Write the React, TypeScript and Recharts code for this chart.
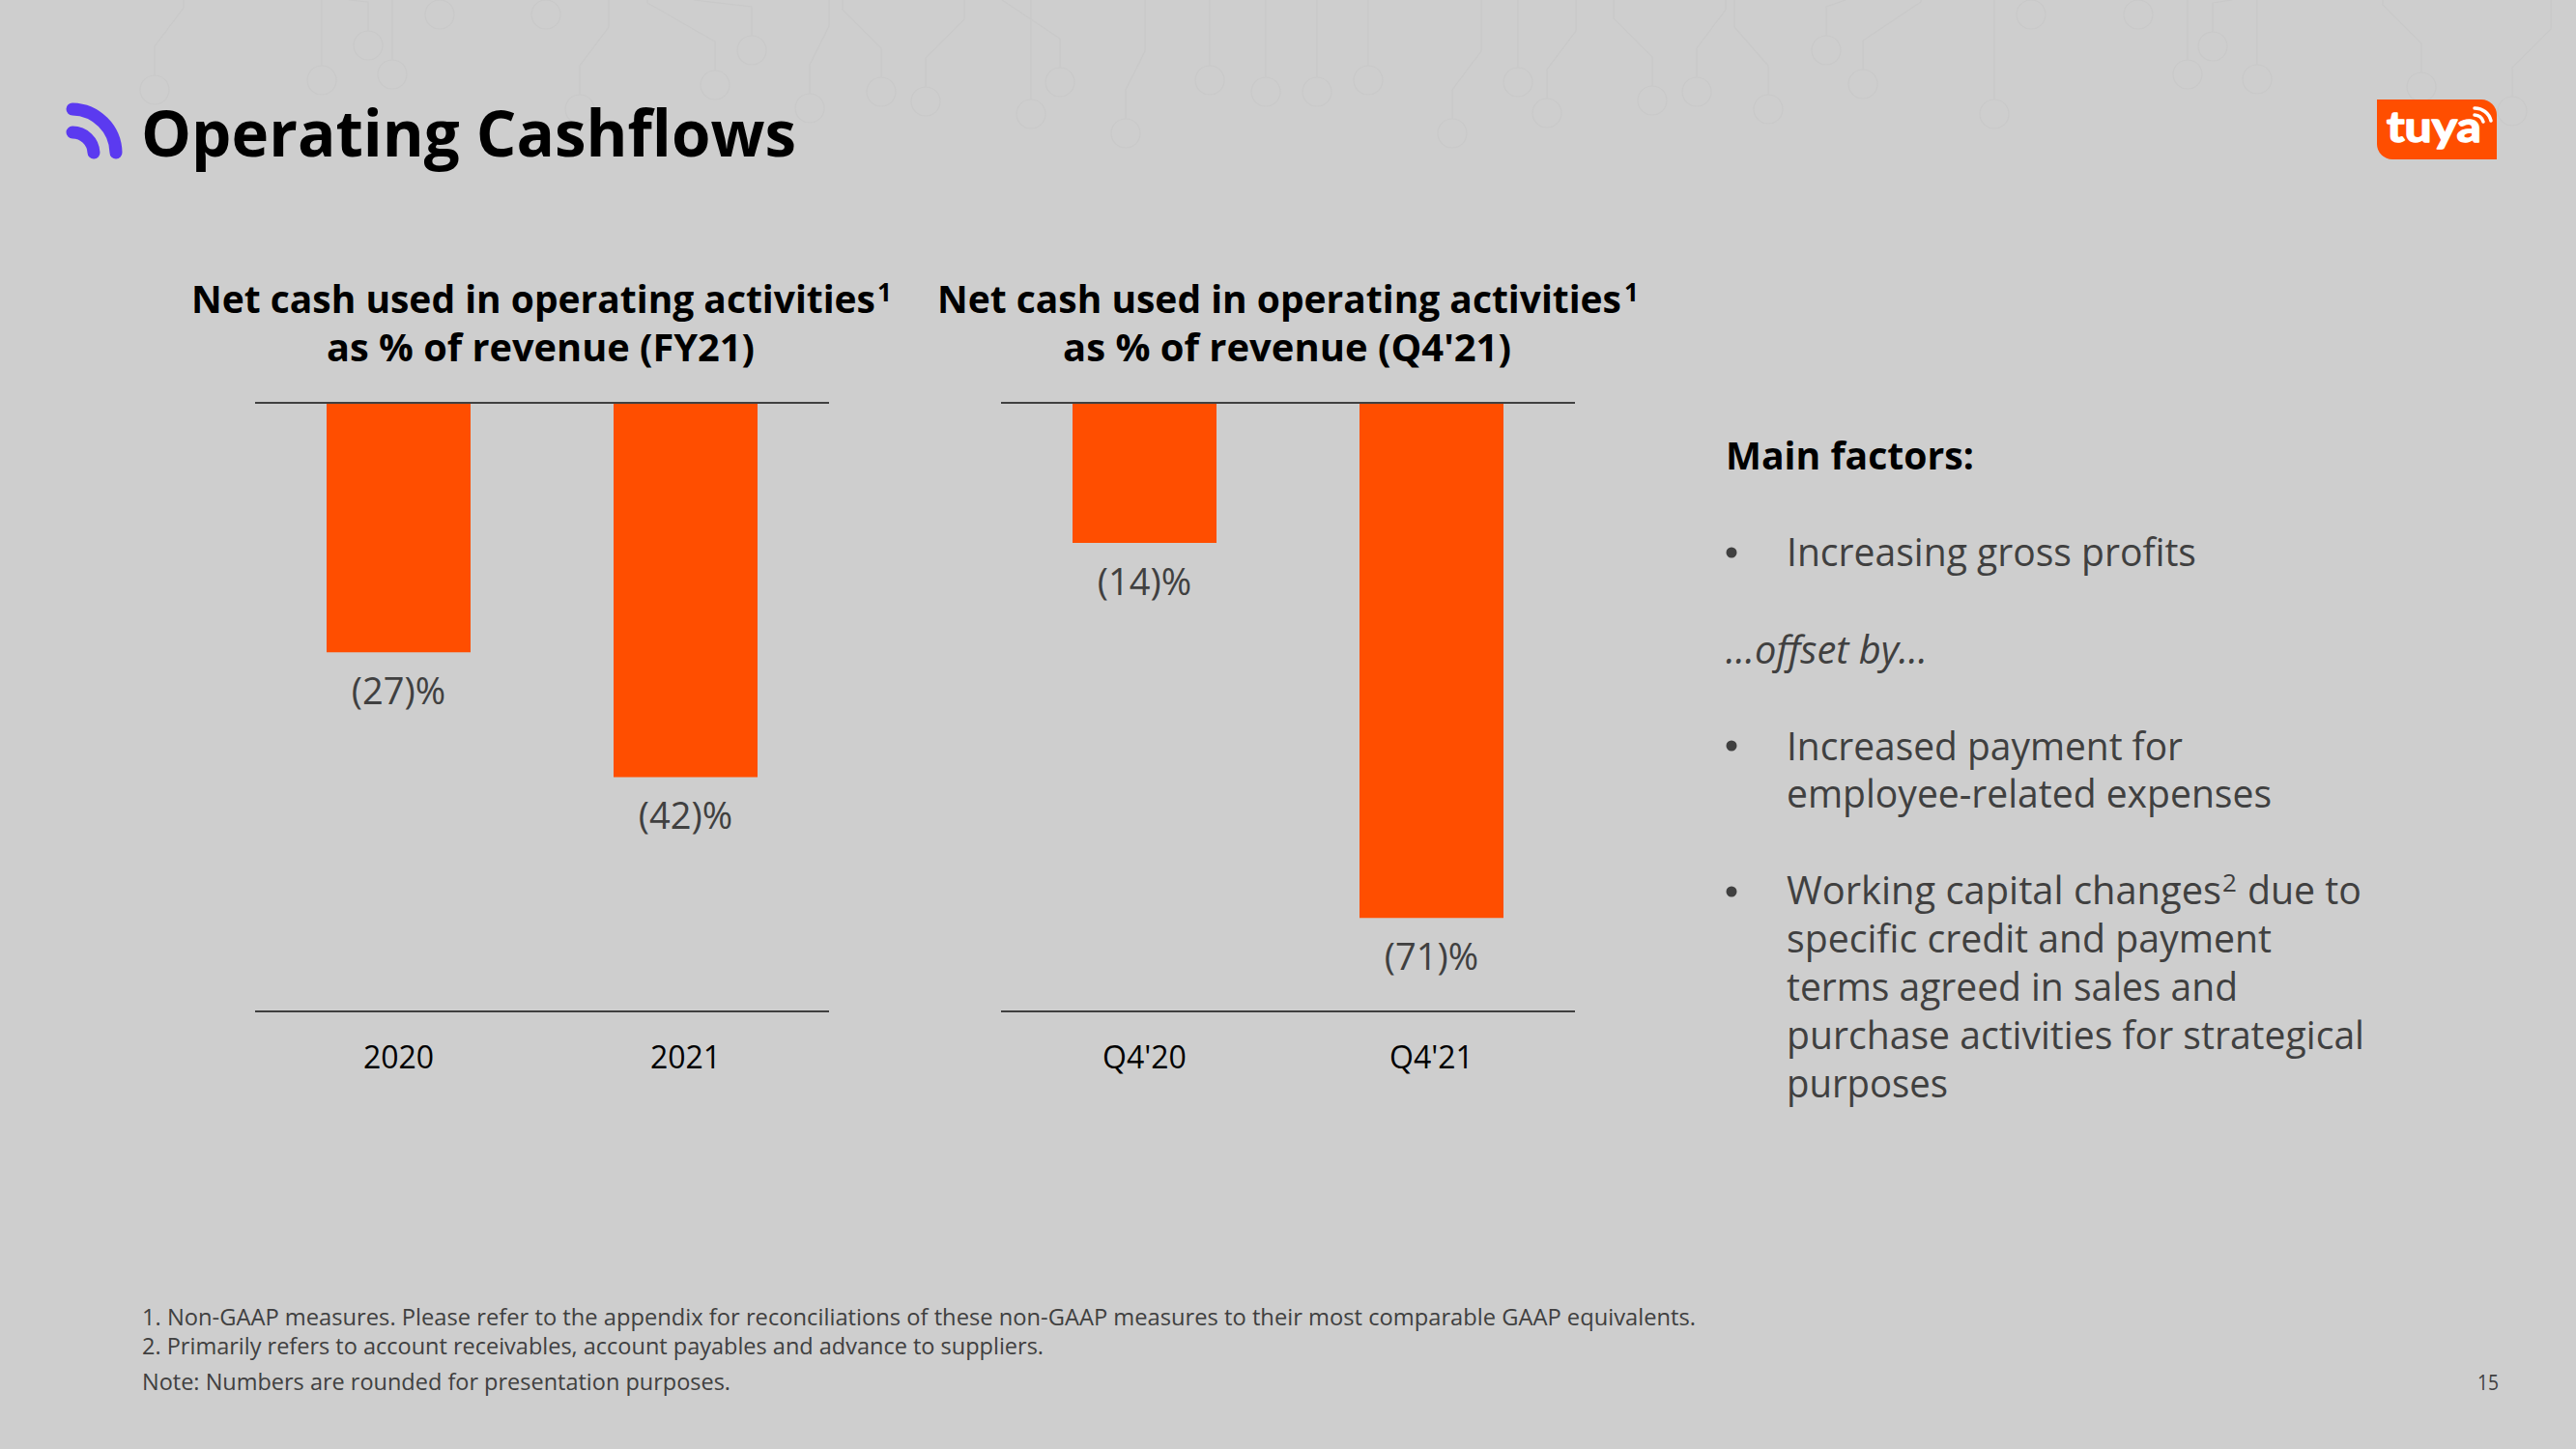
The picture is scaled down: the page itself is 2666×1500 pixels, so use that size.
import React from 'react';
import { BarChart, Bar, XAxis, YAxis, ReferenceLine, LabelList } from 'recharts';

const fyCategories = ['2020', '2021'];
const fyLabels = ['(27)%', '(42)%'];
// bar lengths as drawn in the slide, the printed labels are not quite to scale
const fyBars = [-27, -40.5];

const quarterCategories = ["Q4'20", "Q4'21"];
const quarterLabels = ['(14)%', '(71)%'];
const quarterBars = [-19.3, -71];

const ORANGE = '#FF4E00';
const DARK = '#404040';
const FONT = '"Open Sans", sans-serif';

const fyData = fyCategories.map((name, i) => ({ name, value: fyBars[i], label: fyLabels[i] }));
const quarterData = quarterCategories.map((name, i) => ({
  name,
  value: quarterBars[i],
  label: quarterLabels[i],
}));

// faint circuit decoration along the top edge: node x, node y, sideways drift of the trace
const circuitNodes = [
  [160, 93, 30], [333, 83, 0], [406, 77, 0], [381, 47, -20], [455, 15, 0], [565, 15, 0],
  [778, 52, -60], [740, 88, -70], [838, 112, 20], [912, 95, -40], [958, 105, 40], [1097, 85, -60],
  [1067, 118, 0], [1252, 83, 0], [1310, 95, 0], [1165, 138, 20], [600, 113, 30], [1363, 95, 0],
  [1416, 83, 0], [1571, 85, 0], [1601, 117, 30], [1503, 138, 30], [1710, 104, -40], [1756, 95, 30],
  [1830, 113, -35], [1890, 52, 20], [1928, 87, 60], [2064, 118, 0], [2102, 15, 0], [2213, 15, 0],
  [2290, 48, 20], [2264, 77, 0], [2336, 82, 0], [2506, 90, -40], [2600, 115, 40],
];

function CashChart({ data, domain, left }: { data: any[]; domain: number[]; left: number }) {
  return (
    <div style={{ position: 'absolute', left, top: 400 }}>
      <BarChart
        width={594}
        height={760}
        data={data}
        margin={{ top: 17, right: 0, bottom: 0, left: 0 }}
      >
        <XAxis
          dataKey="name"
          height={113}
          axisLine={{ stroke: DARK, strokeWidth: 2 }}
          tickLine={false}
          tickMargin={30}
          tick={{ fill: '#000000', fontSize: 32, fontFamily: FONT }}
          interval={0}
        />
        <YAxis hide domain={domain} />
        <Bar dataKey="value" fill={ORANGE} barSize={149} isAnimationActive={false}>
          {/* bars hang downwards, so "top" is the free end of the bar here */}
          <LabelList
            dataKey="label"
            position="top"
            offset={27}
            fill={DARK}
            fontSize={38}
            fontFamily={FONT}
          />
        </Bar>
        <ReferenceLine y={0} stroke={DARK} strokeWidth={2} />
      </BarChart>
    </div>
  );
}

function T({ x, y, w, size, bold, italic, fill, anchor, light, children }: any) {
  return (
    <text
      x={x}
      y={y}
      fontSize={size}
      fontFamily={FONT}
      fontWeight={bold ? 700 : light ? 300 : 400}
      fontStyle={italic ? 'italic' : 'normal'}
      fill={fill || DARK}
      textAnchor={anchor || 'start'}
      textLength={w}
      lengthAdjust="spacingAndGlyphs"
    >
      {children}
    </text>
  );
}

export default function App() {
  return (
    <div
      style={{
        position: 'absolute',
        left: 0,
        top: 0,
        width: 2666,
        height: 1500,
        overflow: 'hidden',
        background: '#CECECE',
      }}
    >
      <svg width={2666} height={1500} style={{ position: 'absolute', left: 0, top: 0 }}>
        {circuitNodes.map(([x, y, d], i) => (
          <g key={i} fill="none" stroke="#C9C9C9" strokeWidth={1.2}>
            <circle cx={x} cy={y} r={15} />
            <path d={`M ${x} ${y - 15} L ${x} ${Math.max(y - 45, 0)} L ${x + d} ${Math.max(y - 85, 0)} L ${x + d} 0`} />
          </g>
        ))}

        {/* header */}
        <g fill="none" stroke="#5B3AF0" strokeWidth={13} strokeLinecap="round">
          <path d="M 75 113 A 46 46 0 0 1 120 158" />
          <path d="M 75 137 A 22 22 0 0 1 97 158" />
        </g>
        <T x={146} y={162} w={678} size={67} bold fill="#000000">Operating Cashflows</T>

        <path
          d="M 2460 103 L 2568 103 A 16 16 0 0 1 2584 119 L 2584 165 L 2476 165 A 16 16 0 0 1 2460 149 Z"
          fill={ORANGE}
        />
        <text
          x={2470}
          y={147}
          fontSize={44}
          fontFamily="Lato, sans-serif"
          fontWeight={700}
          fill="#FFFFFF"
          stroke="#FFFFFF"
          strokeWidth={1.5}
          strokeLinejoin="round"
          textLength={98}
          lengthAdjust="spacingAndGlyphs"
        >
          tuya
        </text>
        <g fill="none" stroke="#FFFFFF" strokeWidth={3.5} strokeLinecap="round">
          <path d="M 2561 112 A 17 17 0 0 1 2578 125" />
          <path d="M 2561 119 A 10 10 0 0 1 2570 126" />
        </g>

        {/* chart titles */}
        <T x={198} y={324} w={708} size={40} bold fill="#000000">Net cash used in operating activities</T>
        <T x={908} y={312} size={26} bold fill="#000000">1</T>
        <T x={338} y={374} w={443} size={40} bold fill="#000000">as % of revenue (FY21)</T>
        <T x={970} y={324} w={708} size={40} bold fill="#000000">Net cash used in operating activities</T>
        <T x={1681} y={312} size={26} bold fill="#000000">1</T>
        <T x={1100} y={374} w={464} size={40} bold fill="#000000">as % of revenue (Q4'21)</T>

        {/* right panel */}
        <T x={1786} y={486} w={257} size={40} bold fill="#000000">Main factors:</T>
        <circle cx={1792} cy={572} r={5.5} fill={DARK} />
        <T x={1849} y={586} w={424} size={40}>Increasing gross profits</T>
        <T x={1786} y={687} w={209} size={40} italic>...offset by...</T>
        <circle cx={1792} cy={772} r={5.5} fill={DARK} />
        <T x={1849} y={787} w={410} size={40}>Increased payment for</T>
        <T x={1849} y={836} w={502} size={40}>employee-related expenses</T>
        <circle cx={1792} cy={923} r={5.5} fill={DARK} />
        <T x={1849} y={936} w={450} size={40}>Working capital changes</T>
        <T x={2300} y={923} size={26}>2</T>
        <T x={2326} y={936} w={118} size={40}>due to</T>
        <T x={1849} y={986} w={502} size={40}>specific credit and payment</T>
        <T x={1849} y={1036} w={467} size={40}>terms agreed in sales and</T>
        <T x={1849} y={1086} w={598} size={40}>purchase activities for strategical</T>
        <T x={1849} y={1136} w={167} size={40}>purposes</T>

        {/* footnotes */}
        <T x={147} y={1372} w={1608} size={24}>1. Non-GAAP measures. Please refer to the appendix for reconciliations of these non-GAAP measures to their most comparable GAAP equivalents.</T>
        <T x={147} y={1402} w={933} size={24}>2. Primarily refers to account receivables, account payables and advance to suppliers.</T>
        <T x={147} y={1439} w={609} size={24}>Note: Numbers are rounded for presentation purposes.</T>
        <T x={2564} y={1439} w={22} size={21}>15</T>
      </svg>

      <CashChart data={fyData} domain={[-65.85, 0]} left={264} />
      <CashChart data={quarterData} domain={[-83.9, 0]} left={1036} />
    </div>
  );
}
